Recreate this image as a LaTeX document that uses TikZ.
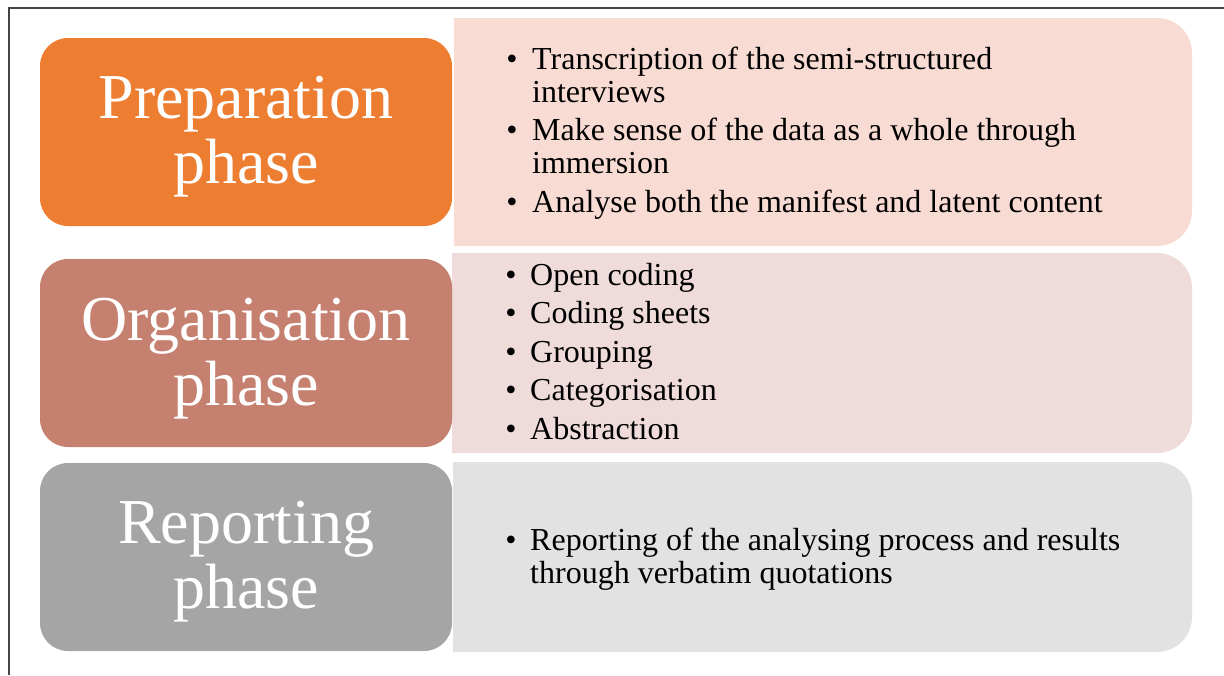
\documentclass[tikz,border=0pt]{standalone}
\usepackage{fontspec}
\setmainfont{Liberation Serif}
\definecolor{prepC}{HTML}{ED7D31}
\definecolor{orgC}{HTML}{C5806F}
\definecolor{repC}{HTML}{A5A5A5}
\definecolor{prepL}{HTML}{F8DBD3}
\definecolor{orgL}{HTML}{EEDBDA}
\definecolor{repL}{HTML}{E2E2E2}
\definecolor{frameC}{HTML}{444444}
\begin{document}
\begin{tikzpicture}[x=1pt,y=-1pt,
  phasebox/.style={rectangle,rounded corners=28pt,minimum width=412pt,minimum height=188pt,inner sep=0pt},
  bigtxt/.style={anchor=base,inner sep=0pt,text=white,font=\fontsize{64}{65}\selectfont},
  itemtxt/.style={anchor=base west,inner sep=0pt,font=\fontsize{32}{33}\selectfont},
  bul/.style={anchor=base,inner sep=0pt,font=\fontsize{32}{33}\selectfont}]
\useasboundingbox (0,0) rectangle (1224,675);
% frame
\draw[frameC,line width=1.5pt] (9,675) -- (9,8) -- (1224,8);
% right boxes
\fill[prepL] (454,18) [rounded corners=35pt] -- (1192,18) -- (1192,246) [sharp corners] -- (454,246) -- cycle;
\fill[orgL] (452,253) [rounded corners=35pt] -- (1192,253) -- (1192,453) [sharp corners] -- (452,453) -- cycle;
\fill[repL] (453,462) [rounded corners=35pt] -- (1192,462) -- (1192,652) [sharp corners] -- (453,652) -- cycle;
% left boxes
\node[phasebox,fill=prepC] (prep) at (246,132) {};
\node[phasebox,fill=orgC] (org) at (246,353) {};
\node[phasebox,fill=repC] (rep) at (246,557) {};
% left texts
\node[bigtxt] (prepa) at (246,118) {Preparation};
\node[bigtxt] (prepb) at (246,183) {phase};
\node[bigtxt] (orga) at (246,340) {Organisation};
\node[bigtxt] (orgb) at (246,405) {phase};
\node[bigtxt] (repa) at (246,543) {Reporting};
\node[bigtxt] (repb) at (246,608) {phase};
% list 1
\node[bul] (b11) at (512,69) {•};
\node[itemtxt] (t11) at (532,69) {Transcription of the semi-structured};
\node[itemtxt] (t12) at (532,102) {interviews};
\node[bul] (b12) at (512,140) {•};
\node[itemtxt] (t13) at (532,140) {Make sense of the data as a whole through};
\node[itemtxt] (t14) at (532,173) {immersion};
\node[bul] (b13) at (512,212) {•};
\node[itemtxt] (t15) at (532,212) {Analyse both the manifest and latent content};
% list 2
\node[bul] (b21) at (511,285) {•};
\node[itemtxt] (t21) at (530,285) {Open coding};
\node[bul] (b22) at (511,323.5) {•};
\node[itemtxt] (t22) at (530,323.5) {Coding sheets};
\node[bul] (b23) at (511,362) {•};
\node[itemtxt] (t23) at (530,362) {Grouping};
\node[bul] (b24) at (511,400.5) {•};
\node[itemtxt] (t24) at (530,400.5) {Categorisation};
\node[bul] (b25) at (511,439) {•};
\node[itemtxt] (t25) at (530,439) {Abstraction};
% list 3
\node[bul] (b31) at (511,550) {•};
\node[itemtxt] (t31) at (530,550) {Reporting of the analysing process and results};
\node[itemtxt] (t32) at (530,583) {through verbatim quotations};
\end{tikzpicture}
\end{document}
